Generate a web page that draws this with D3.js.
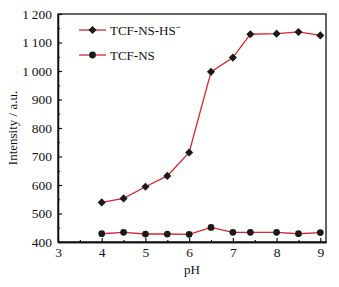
<!DOCTYPE html>
<html><head><meta charset="utf-8">
<script src="https://cdn.jsdelivr.net/npm/d3@7/dist/d3.min.js"></script>
<style>body{margin:0;background:#fff}svg{display:block}text{font-family:"Liberation Serif","Times New Roman",serif;fill:#111}</style>
</head><body>
<script>
const phValues = [4, 4.5, 5, 5.5, 6, 6.5, 7, 7.4, 8, 8.5, 9];
const hsValues = [539, 553, 594, 632, 714, 997, 1047, 1129, 1131, 1137, 1125];
const nsValues = [429, 434, 428, 428, 427, 451, 434, 434, 434, 429, 433];
const seriesNames = ["TCF-NS-HS\u207B", "TCF-NS"];
const xTicks = [3, 4, 5, 6, 7, 8, 9];
const xTickLabels = ["3", "4", "5", "6", "7", "8", "9"];
const yTicks = [400, 500, 600, 700, 800, 900, 1000, 1100, 1200];
const yTickLabels = ["400", "500", "600", "700", "800", "900", "1\u2009000", "1\u2009100", "1\u2009200"];

const W = 339, H = 287;
const m = {l: 58, r: 13, t: 14, b: 45};
const svg = d3.select("body").append("svg").attr("width", W).attr("height", H);
const x = d3.scaleLinear().domain([3, 9.13]).range([m.l, W - m.r]);
const y = d3.scaleLinear().domain([400, 1200]).range([H - m.b, m.t]);

const g = svg.append("g");
g.append("rect").attr("x", m.l).attr("y", m.t).attr("width", W - m.r - m.l).attr("height", H - m.b - m.t)
  .attr("fill", "none").attr("stroke", "#111").attr("stroke-width", 1.3);

const xAx = d3.axisBottom(x).tickValues(xTicks).tickSizeInner(-4).tickSizeOuter(0).tickPadding(5.5)
  .tickFormat((d, i) => xTickLabels[i]);
const xg = g.append("g").attr("transform", `translate(0,${H - m.b})`).call(xAx);
const xm = d3.axisBottom(x).tickValues(d3.range(3.5, 9, 1)).tickSizeInner(-2).tickSizeOuter(0).tickFormat("");
const xmg = g.append("g").attr("transform", `translate(0,${H - m.b})`).call(xm);
const yAx = d3.axisLeft(y).tickValues(yTicks).tickSizeInner(-4).tickSizeOuter(0).tickPadding(6)
  .tickFormat((d, i) => yTickLabels[i]);
const yg = g.append("g").attr("transform", `translate(${m.l},0)`).call(yAx);
const ym = d3.axisLeft(y).tickValues(d3.range(450, 1200, 100)).tickSizeInner(-2).tickSizeOuter(0).tickFormat("");
const ymg = g.append("g").attr("transform", `translate(${m.l},0)`).call(ym);
[xg, xmg, yg, ymg].forEach(a => {
  a.select(".domain").attr("stroke", "#111").attr("stroke-width", 1.3);
  a.selectAll("line").attr("stroke", "#111").attr("stroke-width", 1.2);
  a.selectAll("text").style("font-family", '"Liberation Serif",serif').style("font-size", "13.5px").attr("fill", "#111");
});

svg.append("text").attr("x", (m.l + W - m.r) / 2).attr("y", 274).attr("text-anchor", "middle")
  .style("font-size", "13px").text("pH");
svg.append("text").attr("transform", `translate(17,${(m.t + H - m.b) / 2}) rotate(-90)`).attr("text-anchor", "middle")
  .style("font-size", "13px").text("Intensity / a.u.");

const red = "#d8262a";
const line = d3.line().x((d, i) => x(phValues[i])).y(d => y(d));
const diamond = d3.symbol().type(d3.symbolDiamond2).size(42);
const circle = d3.symbol().type(d3.symbolCircle).size(36);

[[hsValues, diamond], [nsValues, circle]].forEach(([vals, sym]) => {
  g.append("path").datum(vals).attr("d", line).attr("fill", "none").attr("stroke", red).attr("stroke-width", 1.3);
  g.selectAll(null).data(vals).join("path")
    .attr("transform", (d, i) => `translate(${x(phValues[i])},${y(d)})`)
    .attr("d", sym).attr("fill", "#1a1a1a");
});

const leg = svg.append("g");
[[diamond, 30], [circle, 55]].forEach(([sym, ly], i) => {
  leg.append("line").attr("x1", 79).attr("x2", 106).attr("y1", ly).attr("y2", ly).attr("stroke", red).attr("stroke-width", 1.3);
  leg.append("path").attr("transform", `translate(92.5,${ly})`).attr("d", sym).attr("fill", "#1a1a1a");
  leg.append("text").attr("x", 110).attr("y", ly + 4.5).style("font-size", "13px").text(seriesNames[i]);
});
</script>
</body></html>
